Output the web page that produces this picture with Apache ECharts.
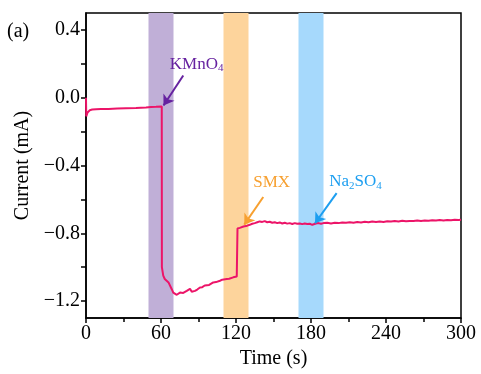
<!DOCTYPE html>
<html><head><meta charset="utf-8">
<script src="https://cdn.jsdelivr.net/npm/echarts@6/dist/echarts.min.js"></script>
<style>html,body{margin:0;padding:0;background:#fff}#c{width:481px;height:374px}</style>
</head><body><div id="c"></div>
<script>
// time (s)
const times = [0,0.2,0.6,1.2,2,3,5,8,12,18,25,32,40,48,52,56,60.6,
60.7,61.8,63,64.6,66,67.2,68.6,69.8,71,72.6,74,75.2,76.5,77.8,79,80.6,82,83.2,84.6,86,87.2,89,91.2,93,95,96.6,98.5,100,101.8,104,105.5,107.2,109,110.5,112.6,114.5,116,117.8,119,120.6,121,
121.2,123,124.5,126,127.5,129,131,133,135,137,139,141,143,145,147,149,151,153,155,157,159,161,163,165,167,169,171,173,175,177,179,181,182.5,184,186,188,190,193,196,199,202,205,208,211,214,217,220,223,226,229,232,235,238,241,244,247,250,253,256,259,262,265,268,271,274,277,280,283,286,289,292,295,298,300];
// current (mA)
const current = [0.0,-0.11,-0.1,-0.088,-0.08,-0.074,-0.07,-0.068,-0.067,-0.066,-0.064,-0.062,-0.06,-0.057,-0.055,-0.054,-0.052,
-1.0,-1.05,-1.07,-1.08,-1.09,-1.10,-1.13,-1.15,-1.155,-1.163,-1.158,-1.15,-1.158,-1.152,-1.148,-1.14,-1.135,-1.128,-1.145,-1.142,-1.14,-1.132,-1.12,-1.118,-1.108,-1.10,-1.105,-1.095,-1.09,-1.088,-1.08,-1.08,-1.074,-1.078,-1.07,-1.068,-1.062,-1.06,-1.05,-1.055,-1.05,
-0.772,-0.768,-0.765,-0.76,-0.762,-0.755,-0.75,-0.744,-0.74,-0.735,-0.73,-0.733,-0.728,-0.735,-0.732,-0.738,-0.735,-0.74,-0.736,-0.742,-0.738,-0.743,-0.74,-0.745,-0.74,-0.744,-0.742,-0.746,-0.742,-0.745,-0.744,-0.75,-0.748,-0.742,-0.74,-0.744,-0.74,-0.738,-0.742,-0.738,-0.74,-0.736,-0.738,-0.735,-0.738,-0.734,-0.736,-0.732,-0.735,-0.73,-0.733,-0.73,-0.733,-0.729,-0.731,-0.728,-0.73,-0.726,-0.729,-0.727,-0.728,-0.724,-0.727,-0.725,-0.726,-0.723,-0.725,-0.722,-0.724,-0.721,-0.723,-0.72,-0.722,-0.72];
// shaded injection windows (s)
const bandNames = ['KMnO4','SMX','Na2SO4'];
const bandStart = [50,110,170];
const bandEnd = [70,130,190];
const yTicks = [-1.2,-0.8,-0.4,0,0.4];
const yAllTicks = [-1.2,-1.0,-0.8,-0.6,-0.4,-0.2,0,0.2,0.4];

const F = 'Liberation Serif, Times New Roman, serif';
const bandColors = ['#c0afd7','#fdd49c','#a6d9fc'];
const textColors = ['#6622a0','#f7a030','#1c9ef0'];

const chart = echarts.init(document.getElementById('c'), null, {renderer:'canvas'});
const data = times.map((t,i)=>[t,current[i]]);

const arrows = [
  [[77.8,0.131],[62.0,-0.046]],
  [[141.8,-0.586],[126.6,-0.749]],
  [[200.5,-0.563],[183.2,-0.741]]
];
const labels = [
  {coord:[67,0.196], text:'{a|KMnO}{s|4}'},
  {coord:[133.8,-0.50], text:'{a|SMX}'},
  {coord:[194.6,-0.497], text:'{a|Na}{s|2}{a|SO}{s|4}'}
];

chart.setOption({
  animation:false,
  backgroundColor:'#fff',
  grid:{left:86,right:20,top:13,bottom:56,show:true,borderColor:'#000',borderWidth:1.5,backgroundColor:'transparent'},
  graphic:[{type:'text',left:7,top:22,style:{text:'(a)',font:'20px '+F,fill:'#000'}}],
  xAxis:{type:'value',min:0,max:300,interval:60,
    name:'Time (s)',nameLocation:'middle',nameGap:30,
    nameTextStyle:{fontFamily:F,fontSize:20,color:'#000'},
    axisLine:{onZero:false,lineStyle:{color:'#000',width:1.5}},
    axisTick:{length:5,lineStyle:{color:'#000',width:1.5}},
    minorTick:{show:true,splitNumber:2,length:4,lineStyle:{color:'#000',width:1.5}},
    axisLabel:{fontFamily:F,fontSize:20,color:'#000',margin:6},
    splitLine:{show:false}},
  yAxis:{type:'value',min:-1.3,max:0.5,
    name:'Current (mA)',nameLocation:'middle',nameGap:52,
    nameTextStyle:{fontFamily:F,fontSize:20,color:'#000'},
    axisLine:{show:true,onZero:false,lineStyle:{color:'#000',width:1.5}},
    axisTick:{show:true,length:5,customValues:yAllTicks,lineStyle:{color:'#000',width:1.5}},
    axisLabel:{fontFamily:F,fontSize:20,color:'#000',margin:6,customValues:yTicks,
      formatter:v=>(Math.abs(v)<1e-9?'0.0':v.toFixed(1).replace('-','\u2212'))},
    splitLine:{show:false}},
  series:[{
    type:'line',data:data,showSymbol:false,symbol:'none',
    lineStyle:{color:'#ec1468',width:2},
    z:3,
    markArea:{silent:true,z:1,data:bandStart.map((s,i)=>[{xAxis:s,itemStyle:{color:bandColors[i],opacity:1}},{xAxis:bandEnd[i]}])},
    markLine:{silent:true,symbol:['none','arrow'],symbolSize:10,animation:false,
      label:{show:false},
      data:arrows.map((a,i)=>[{coord:a[0],lineStyle:{color:textColors[i],width:2,type:'solid'}},{coord:a[1]}])},
    markPoint:{silent:true,symbol:'circle',symbolSize:0,
      data:labels.map((l,i)=>({coord:l.coord,label:{show:true,position:'right',distance:0,formatter:l.text,
        rich:{a:{fontFamily:F,fontSize:17,color:textColors[i]},s:{fontFamily:F,fontSize:11,color:textColors[i],padding:[8,0,0,0]}}}}))}
  }]
});
</script></body></html>
